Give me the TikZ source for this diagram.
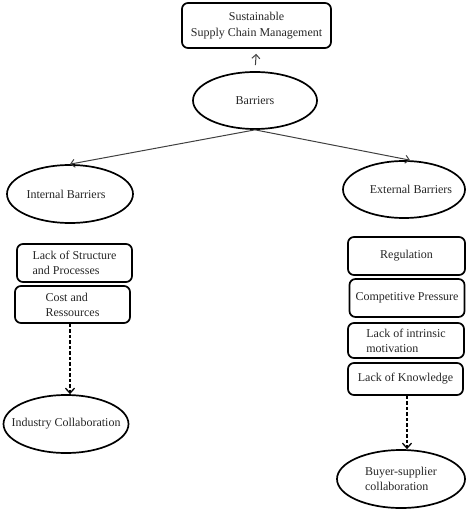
\documentclass[tikz,border=0pt]{standalone}
\usepackage{fontspec}
\setmainfont{Liberation Serif}
\usetikzlibrary{shapes.geometric,arrows.meta}
\begin{document}
\begin{tikzpicture}[x=1pt,y=-1pt,
  every node/.style={font=\fontsize{12}{15}\selectfont, text=black!85},
  rbox/.style={draw=black, line width=1.7pt, rounded corners=6pt, inner sep=0pt, align=left},
  ell/.style={draw=black, ellipse, line width=1.7pt, inner sep=0pt},
  etxt/.style={label={[align=left, font=\fontsize{12}{15}\selectfont, text=black!85]center:#1}},
  conn/.style={draw=black!75, line width=1pt, -{Straight Barb[length=4pt,width=8pt]}},
  dconn/.style={draw=black, line width=2pt, dash pattern=on 3.5pt off 2pt, -{Straight Barb[length=5pt,width=9pt,line width=1.3pt]}}]
\useasboundingbox (0,0) rectangle (474,513);
\node[rbox, minimum width=149pt, minimum height=45pt, align=center, font=\fontsize{12}{16}\selectfont] (ssc) at (256.5,25.5) {Sustainable\\Supply Chain Management};
\node[ell, minimum width=124pt, minimum height=57pt, etxt={Barriers}] (bar) at (255,100.5) {};
\node[ell, minimum width=126pt, minimum height=58pt, etxt={\hspace*{-8pt}Internal Barriers}] (int) at (70,194) {};
\node[ell, minimum width=122pt, minimum height=57pt, etxt={\hspace*{14pt}External Barriers}] (ext) at (404,189.5) {};
\node[rbox, minimum width=115pt, minimum height=38pt] (lsp) at (74.5,263) {Lack of Structure\\and Processes};
\node[rbox, minimum width=115pt, minimum height=37pt] (car) at (72.5,304.5) {Cost and\\Ressources};
\node[ell, minimum width=125pt, minimum height=58pt, etxt={Industry Collaboration}] (ind) at (66,424) {};
\node[rbox, minimum width=117pt, minimum height=38pt] (reg) at (406.5,256) {Regulation};
\node[rbox, minimum width=115pt, minimum height=38pt] (cp) at (407,298) {Competitive Pressure};
\node[rbox, minimum width=116pt, minimum height=35pt] (lim) at (406,340.5) {Lack of intrinsic\\motivation};
\node[rbox, minimum width=115pt, minimum height=32pt] (lok) at (405.5,379) {Lack of Knowledge};
\node[ell, minimum width=128pt, minimum height=58pt, etxt={Buyer-supplier\\collaboration}] (bsc) at (401,479) {};
\draw[conn, shorten <=6pt, shorten >=5pt] (bar.north) -- (ssc.south);
\draw[conn] (bar.south) -- (int.north);
\draw[conn] (bar.south) -- ([xshift=6pt]ext.north);
\draw[dconn] ([xshift=-2.5pt]car.south) -- ([xshift=-2.5pt]car.south |- ind.north);
\draw[dconn] ([xshift=1.5pt]lok.south) -- ([xshift=1.5pt]lok.south |- bsc.north);
\end{tikzpicture}
\end{document}
